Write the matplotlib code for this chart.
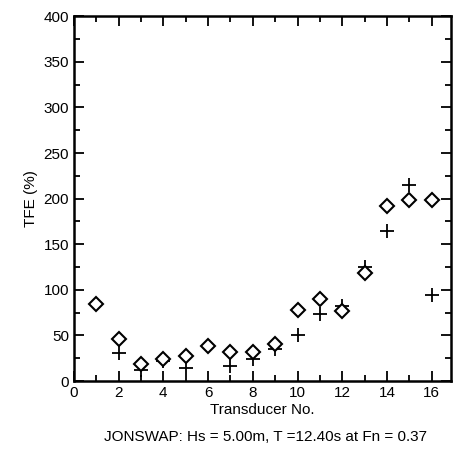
import matplotlib
matplotlib.use("Agg")
import matplotlib.pyplot as plt
from matplotlib.ticker import MultipleLocator

transducer = [1, 2, 3, 4, 5, 6, 7, 8, 9, 10, 11, 12, 13, 14, 15, 16]
tfe_diamond = [85, 46, 19, 24, 28, 38, 32, 32, 41, 78, 90, 77, 118, 192, 198, 198]
tfe_plus = [85, 31, 12, 22, 14, 38, 16, 24, 35, 51, 73, 82, 125, 164, 215, 94]

plt.rcParams['font.family'] = ['Liberation Sans', 'DejaVu Sans']

fig = plt.figure(figsize=(4.53, 4.63), dpi=100)
ax = fig.add_axes([0.163, 0.177, 0.832, 0.788])

ax.plot(transducer, tfe_plus, linestyle='none', marker='+', markersize=10,
        color='black', markeredgewidth=1.3, zorder=3)
ax.plot(transducer, tfe_diamond, linestyle='none', marker='D', markersize=7.5,
        markerfacecolor='white', markeredgecolor='black', markeredgewidth=1.5, zorder=4)

ax.set_xlim(0, 16.85)
ax.set_ylim(0, 400)
ax.xaxis.set_major_locator(MultipleLocator(2))
ax.xaxis.set_minor_locator(MultipleLocator(1))
ax.yaxis.set_major_locator(MultipleLocator(50))
ax.yaxis.set_minor_locator(MultipleLocator(25))
ax.tick_params(which='both', direction='in', top=True, right=True, labelsize=11, width=1.3)
ax.tick_params(which='major', length=7)
ax.tick_params(which='minor', length=4)
for s in ax.spines.values():
    s.set_linewidth(1.8)

ax.set_xlabel('Transducer No.', fontsize=11, labelpad=2)
ax.set_ylabel('TFE (%)', fontsize=11, labelpad=4)

fig.text(0.585, 0.057, 'JONSWAP: Hs = 5.00m, T =12.40s at Fn = 0.37',
         ha='center', va='center', fontsize=11)

fig.savefig('out.png', dpi=100)
